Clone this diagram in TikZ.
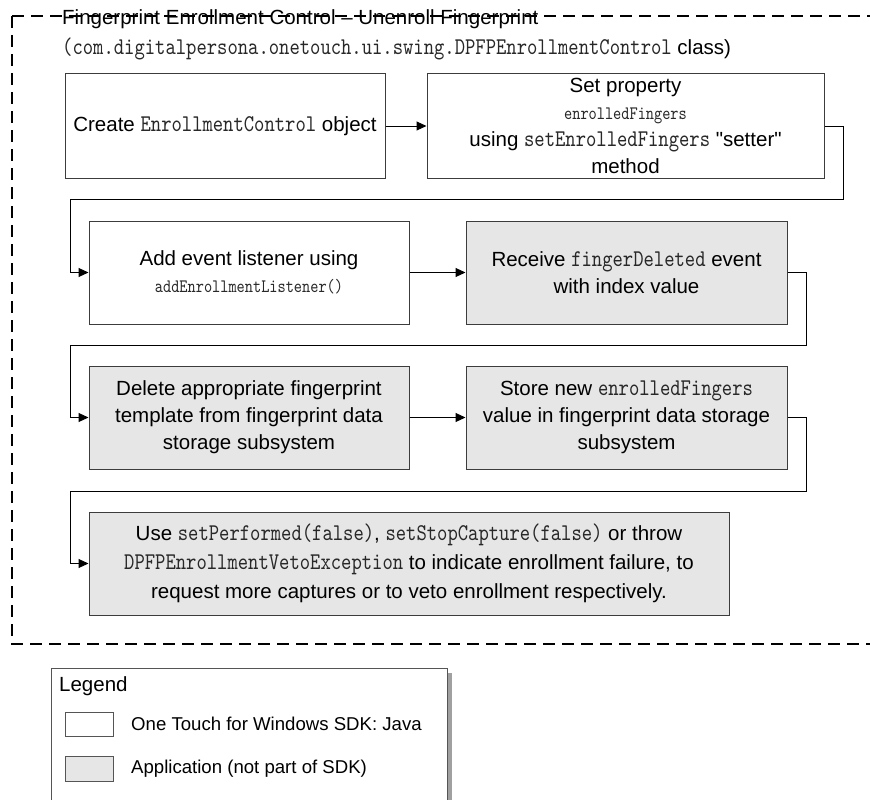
\documentclass[tikz,border=0pt]{standalone}
\usepackage{fontspec}
\setmainfont{Liberation Sans}[Ligatures=TeXOff]
\newfontfamily\cmono{lmmono10-regular.otf}[FakeStretch=0.82]
\usetikzlibrary{arrows.meta}

\definecolor{appfill}{HTML}{E6E6E6}
\definecolor{boxline}{HTML}{3C3C3C}
\definecolor{legline}{HTML}{555555}
\definecolor{shadowgray}{HTML}{A0A0A0}
\definecolor{codegray}{HTML}{282828}

% body text and code text sizes
\newcommand{\bodyfont}{\fontsize{20.5}{27}\selectfont}
\newcommand{\code}[1]{{\fontsize{24}{27}\selectfont\cmono\color{codegray}#1}}
\newcommand{\smallcode}[1]{{\fontsize{19}{27}\selectfont\cmono\color{codegray}#1}}

\tikzset{
  stepbox/.style={draw=boxline, line width=1pt, fill=white, align=center,
    inner sep=0pt, font=\bodyfont},
  appbox/.style={stepbox, fill=appfill},
  flow/.style={draw=black, line width=1pt,
    -{Triangle[length=10pt,width=9pt]}},
  frame/.style={draw=black, line width=1.2pt, dash pattern=on 12pt off 7pt},
  legendbox/.style={draw=legline, line width=1pt, fill=white},
}

\begin{document}
\begin{tikzpicture}[x=1pt, y=-1pt]
\useasboundingbox (0,0) rectangle (870,800);

% enclosing dashed frame (open on the right)
\draw[frame] (12,16) -- (870,16);
\draw[frame] (12,16) -- (12,644) -- (870,644);

% heading
\node[anchor=base west, inner sep=0pt, font=\fontsize{20.5}{24}\selectfont]
  (title) at (62,25) {Fingerprint Enrollment Control – Unenroll Fingerprint};
\node[anchor=base west, inner sep=0pt, font=\fontsize{20.5}{24}\selectfont]
  (subtitle) at (62,55)
  {\code{(com.digitalpersona.onetouch.ui.swing.DPFPEnrollmentControl} class)};

% process steps
\node[stepbox, minimum width=320pt, minimum height=104pt] (b1) at (225,126)
  {Create \code{EnrollmentControl} object};
\node[stepbox, minimum width=397pt, minimum height=104pt] (b2) at (625.5,126)
  {Set property\\ \smallcode{enrolledFingers}\\
   using \code{setEnrolledFingers} "setter"\\ method};
\node[stepbox, minimum width=320pt, minimum height=103pt] (b3) at (249,272.5)
  {Add event listener using\\ \smallcode{addEnrollmentListener()}};
\node[appbox, minimum width=321pt, minimum height=103pt] (b4) at (626.5,272.5)
  {Receive \code{fingerDeleted} event\\ with index value};
\node[appbox, minimum width=320pt, minimum height=103pt] (b5) at (249,417.5)
  {Delete appropriate fingerprint\\ template from fingerprint data\\ storage subsystem};
\node[appbox, minimum width=321pt, minimum height=103pt] (b6) at (626.5,417.5)
  {Store new \code{enrolledFingers}\\ value in fingerprint data storage\\ subsystem};
\node[appbox, minimum width=640pt, minimum height=103pt,
      font=\fontsize{20.5}{29}\selectfont] (b7) at (409,563.5)
  {Use \code{setPerformed(false)}, \code{setStopCapture(false)} or throw\\
   \code{DPFPEnrollmentVetoException} to indicate enrollment failure, to\\
   request more captures or to veto enrollment respectively.};

% turning points of the return connectors
\coordinate (r1) at (843,199);
\coordinate (l1) at (70,199);
\coordinate (r2) at (806,345);
\coordinate (l2) at (70,345);
\coordinate (r3) at (806,491);
\coordinate (l3) at (70,491);

% connectors
\draw[flow] (b1.east) -- (b2.west);
\draw[flow] (b2.east) -| (r1) -- (l1) |- (b3.west);
\draw[flow] (b3.east) -- (b4.west);
\draw[flow] (b4.east) -| (r2) -- (l2) |- (b5.west);
\draw[flow] (b5.east) -- (b6.west);
\draw[flow] (b6.east) -| (r3) -- (l3) |- (b7.west);

% legend
\fill[shadowgray] (447,673) rectangle (452,810);
\path[legendbox] (51,668) rectangle (447,810);
\node[anchor=west, inner sep=0pt, font=\fontsize{20.5}{24}\selectfont]
  (legtitle) at (59,686) {Legend};
\node[legendbox, minimum width=48pt, minimum height=24pt, inner sep=0pt]
  (legsdk) at (89,724) {};
\node[anchor=west, inner sep=0pt, font=\fontsize{18.6}{22}\selectfont]
  (legsdktext) at (131,724) {One Touch for Windows SDK: Java};
\node[legendbox, fill=appfill, minimum width=48pt, minimum height=25pt, inner sep=0pt]
  (legapp) at (89,768.5) {};
\node[anchor=west, inner sep=0pt, font=\fontsize{18.6}{22}\selectfont]
  (legapptext) at (131,769) {Application (not part of SDK)};
\end{tikzpicture}
\end{document}
